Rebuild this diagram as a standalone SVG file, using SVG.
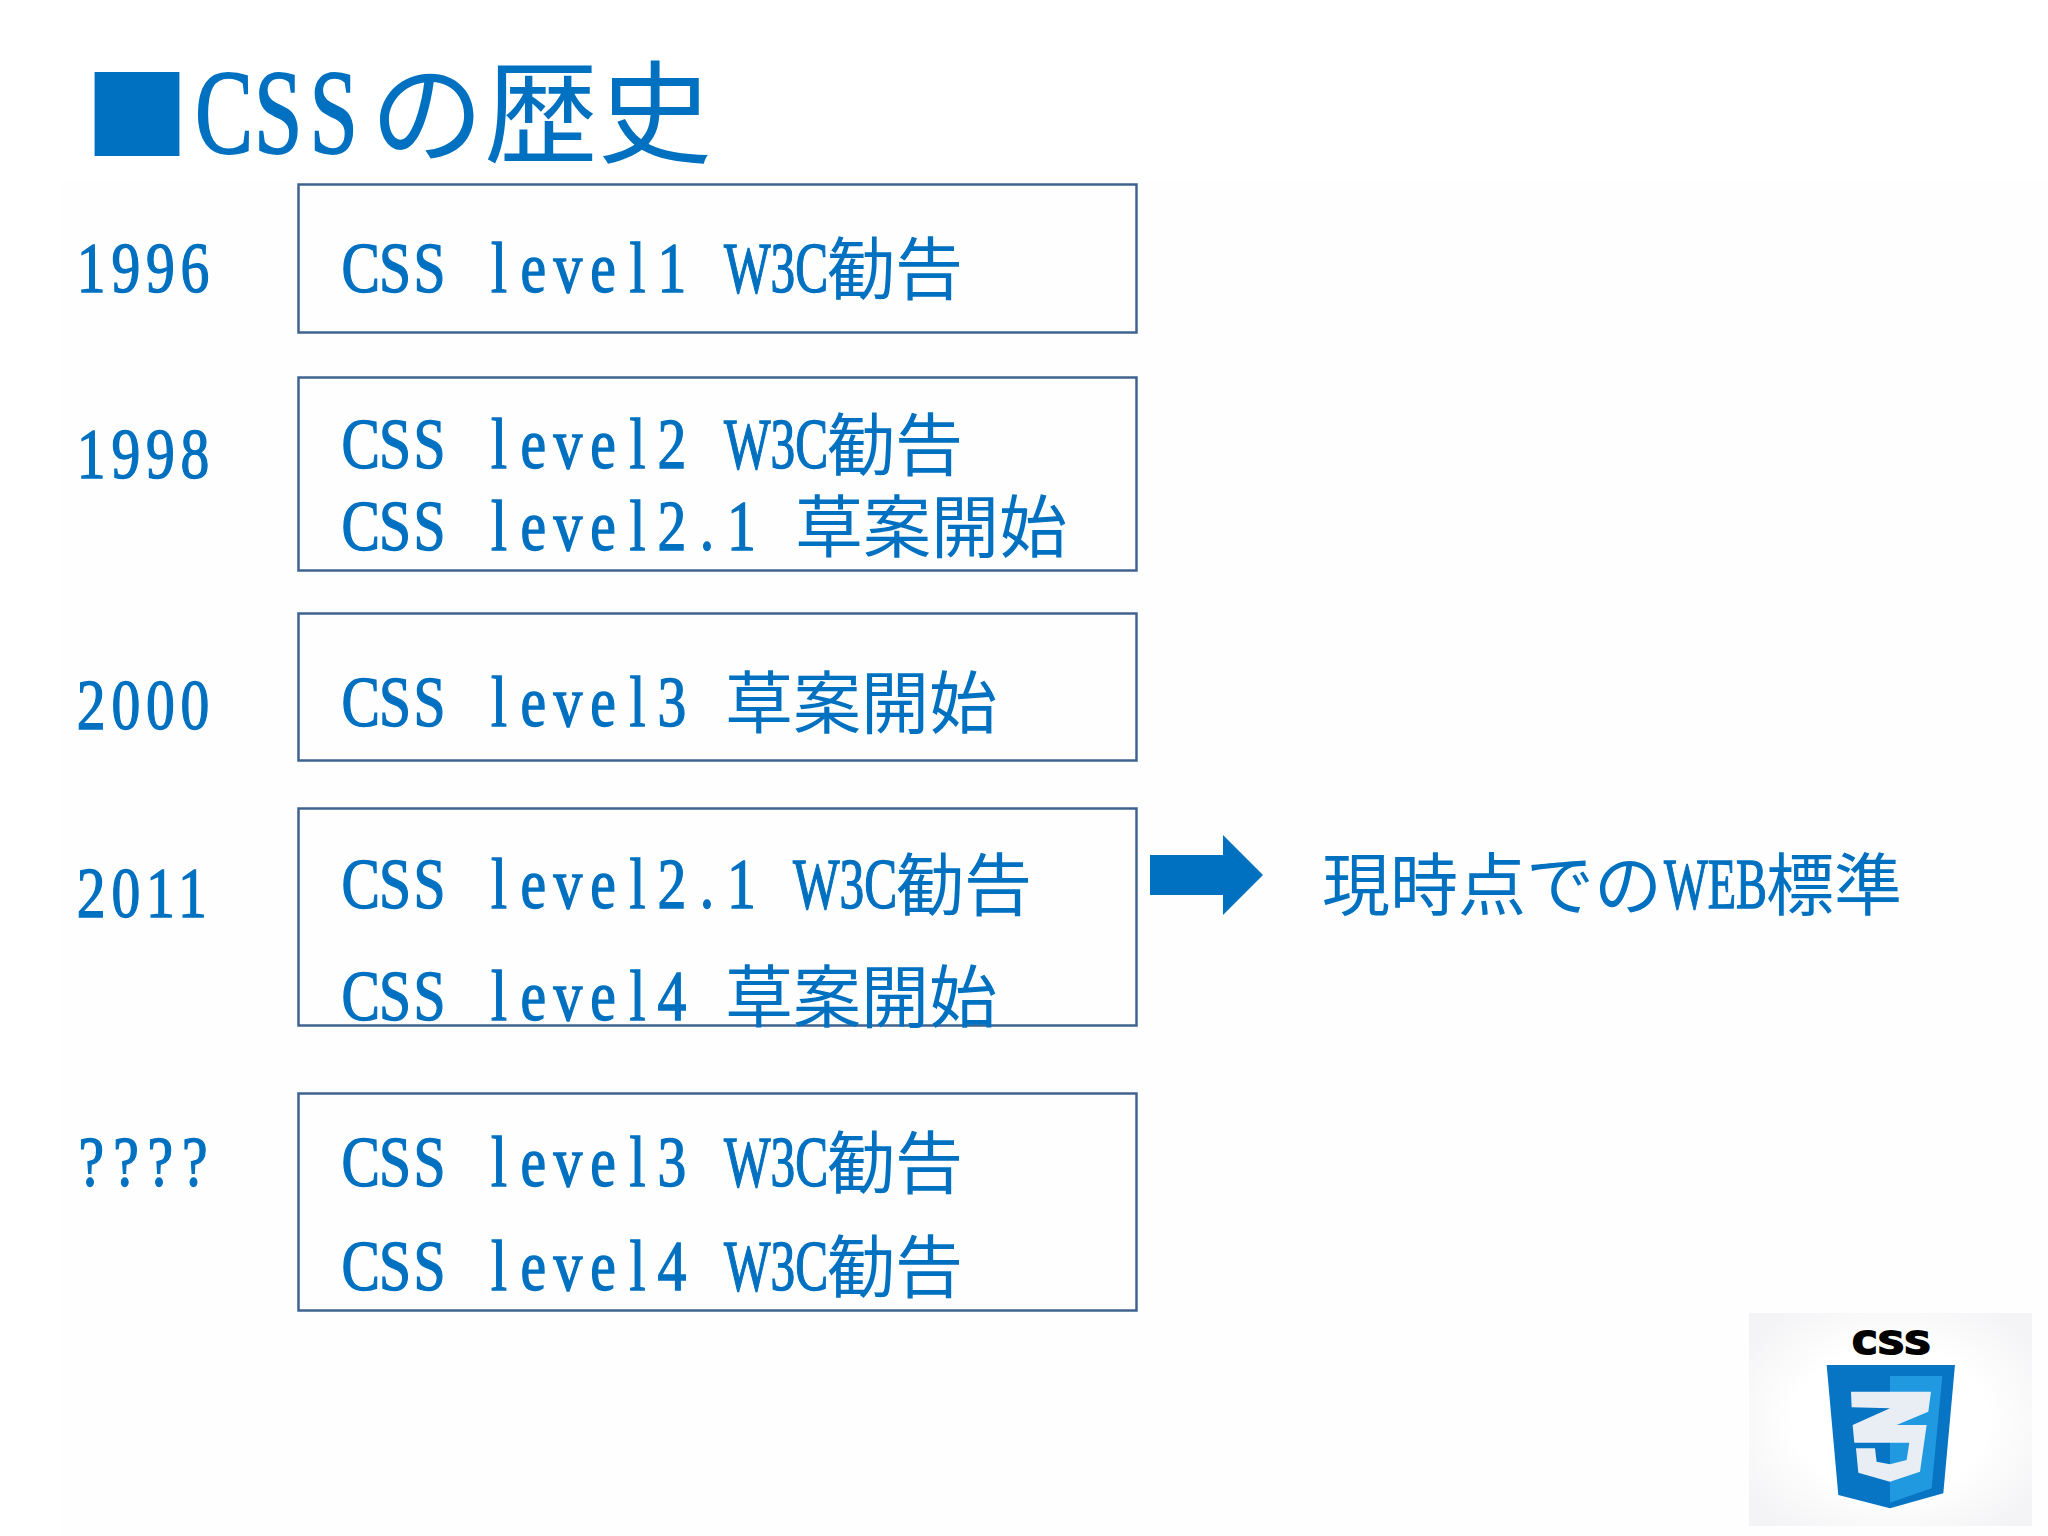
<svg xmlns="http://www.w3.org/2000/svg" width="2048" height="1536" viewBox="0 0 2048 1536">
<style>
text{fill:#0070c0;font-family:"Noto Sans CJK JP",sans-serif;font-size:68px}
.l{font-family:"Liberation Serif",serif;font-size:72px;stroke:#0070c0;stroke-width:1.4}
.t{font-size:112px}
.tl{font-family:"Liberation Serif",serif;font-size:121px;stroke:#0070c0;stroke-width:1.8}
.box{fill:none;stroke:#3f6390;stroke-width:2.5}
</style>
<defs>
<radialGradient id="lg" cx=".5" cy=".5" r=".62"><stop offset=".55" stop-color="#fff"/><stop offset="1" stop-color="#f4f4f6"/></radialGradient>
</defs>
<rect width="2048" height="1536" fill="#fff"/>
<rect x="62" y="180" width="1986" height="1356" fill="#fefefe"/>
<g id="title">
<text x="84" y="154" textLength="106" lengthAdjust="spacingAndGlyphs" style="font-size:105px">■</text>
<text class="tl" transform="translate(195,153) scale(.72 1)" x="0 82 159" y="0">CSS</text>
<text class="t" x="370" y="155" textLength="342" lengthAdjust="spacingAndGlyphs">の歴史</text>
</g>
<g id="y1996"><text class="l" transform="translate(74,292) scale(.8 1)" x="3.600 47 90 133" y="0">1996</text></g>
<g id="y1998"><text class="l" transform="translate(74,478) scale(.8 1)" x="3.600 47 90 133" y="0">1998</text></g>
<g id="y2000"><text class="l" transform="translate(74,729) scale(.8 1)" x="3.600 47 90 133" y="0">2000</text></g>
<g id="y2011"><text class="l" transform="translate(74,917) scale(.8 1)" x="3.600 47 90 130" y="0">2011</text></g>
<g id="yunknown"><text class="l" transform="translate(74,1186) scale(.8 1)" x="5.600 49 92 135" y="0">????</text></g>
<g id="box1"><rect class="box" x="298.500" y="184.500" width="838" height="148"/>
<text class="l" transform="translate(343,292) scale(.8 1)" x="-2 45 88 130 185 222 263 309 358 393" y="0">CSS level1</text><text class="l" x="724" y="292" textLength="104" lengthAdjust="spacingAndGlyphs">W3C</text><text x="827" y="294">勧告</text></g>
<g id="box2"><rect class="box" x="298.500" y="377.500" width="838" height="193"/>
<text class="l" transform="translate(343,468) scale(.8 1)" x="-2 45 88 130 185 222 263 309 358 393" y="0">CSS level2</text><text class="l" x="724" y="468" textLength="104" lengthAdjust="spacingAndGlyphs">W3C</text><text x="827" y="470">勧告</text>
<text class="l" transform="translate(343,550) scale(.8 1)" x="-2 45 88 130 185 222 263 309 358 393 446 480" y="0">CSS level2.1</text><text x="795" y="552">草案開始</text></g>
<g id="box3"><rect class="box" x="298.500" y="613.500" width="838" height="147"/>
<text class="l" transform="translate(343,726) scale(.8 1)" x="-2 45 88 130 185 222 263 309 358 393" y="0">CSS level3</text><text x="725" y="728">草案開始</text></g>
<g id="box4"><rect class="box" x="298.500" y="808.500" width="838" height="217"/>
<text class="l" transform="translate(343,908) scale(.8 1)" x="-2 45 88 130 185 222 263 309 358 393 446 480" y="0">CSS level2.1</text><text class="l" x="793" y="908" textLength="104" lengthAdjust="spacingAndGlyphs">W3C</text><text x="896" y="910">勧告</text>
<text class="l" transform="translate(343,1020) scale(.8 1)" x="-2 45 88 130 185 222 263 309 358 393" y="0">CSS level4</text><text x="725" y="1022">草案開始</text></g>
<g id="box5"><rect class="box" x="298.500" y="1093.500" width="838" height="217"/>
<text class="l" transform="translate(343,1186) scale(.8 1)" x="-2 45 88 130 185 222 263 309 358 393" y="0">CSS level3</text><text class="l" x="724" y="1186" textLength="104" lengthAdjust="spacingAndGlyphs">W3C</text><text x="827" y="1188">勧告</text>
<text class="l" transform="translate(343,1290) scale(.8 1)" x="-2 45 88 130 185 222 263 309 358 393" y="0">CSS level4</text><text class="l" x="724" y="1290" textLength="104" lengthAdjust="spacingAndGlyphs">W3C</text><text x="827" y="1292">勧告</text></g>
<g id="connectors"><polygon fill="#0070c0" points="1150,855 1223,855 1223,835 1263,875 1223,915 1223,895 1150,895"/></g>
<g id="note"><text x="1322" y="910">現時点での</text><text class="l" x="1664" y="908" textLength="103" lengthAdjust="spacingAndGlyphs">WEB</text><text x="1766" y="910">標準</text></g>
<g id="logo">
<rect x="1749" y="1313" width="283" height="213" fill="url(#lg)"/>
<text x="1851" y="1354" textLength="80" lengthAdjust="spacingAndGlyphs" style="fill:#000;stroke:#000;stroke-width:2;font-family:'DejaVu Sans Mono',monospace;font-weight:bold;font-size:32px">CSS</text>
<g transform="translate(1700,1280) scale(.3333)">
<polygon fill="#0874c4" points="380,255 765,255 730,640 570,685 415,645"/>
<polygon fill="#2199e0" points="570,288 727,288 695,625 570,668"/>
<polygon fill="#e8eef4" points="453,335 693,335 685,395 590,435 680,435 660,575 570,605 475,578 468,505 525,505 530,545 570,553 620,540 628,488 463,488 458,435 570,385 455,382"/>
</g></g>
</svg>
